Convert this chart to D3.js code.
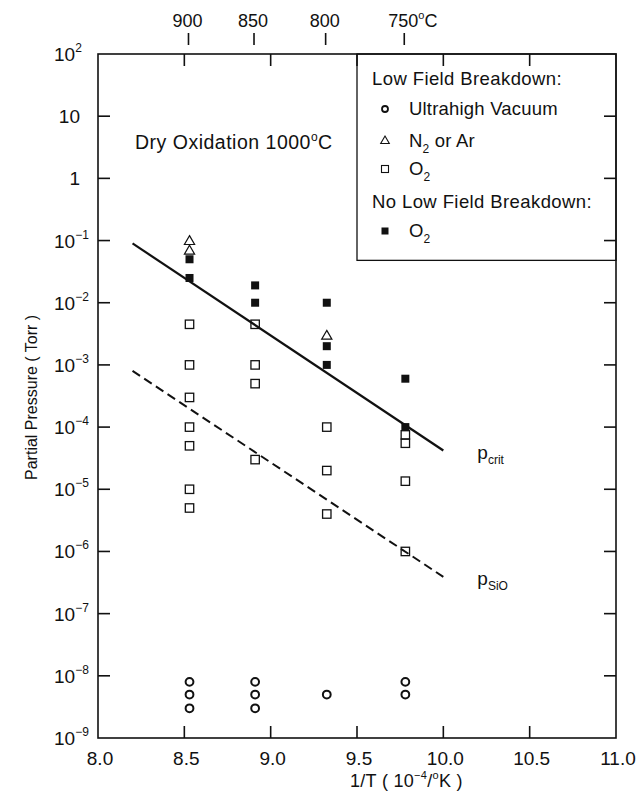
<!DOCTYPE html>
<html>
<head>
<meta charset="utf-8">
<script src="https://cdn.jsdelivr.net/npm/d3@7"></script>
<style>
  body { margin: 0; background: #fff; }
  svg text { font-family: "Liberation Sans", Arial, Helvetica, sans-serif; fill: #111; }
</style>
</head>
<body>
<div id="chart"></div>
<script>
/////////////////////// Constants ///////////////////////
const width = 643;
const height = 805;
const margin = {top: 54, right: 27, bottom: 67, left: 98};

const ink = "#111";

// axis ticks
const xTicks = [8.0, 8.5, 9.0, 9.5, 10.0, 10.5, 11.0];
const yExponents = [2, 1, 0, -1, -2, -3, -4, -5, -6, -7, -8, -9];
const tempTicks = [900, 850, 800, 750];   // degrees C, top axis

// data columns (1/T, 10^-4/K) and partial pressures (Torr)
const uhvPoints = [
  [8.53, 8e-9], [8.53, 5e-9], [8.53, 3e-9],
  [8.91, 8e-9], [8.91, 5e-9], [8.91, 3e-9],
  [9.325, 5e-9],
  [9.78, 8e-9], [9.78, 5e-9]
];
const inertPoints = [
  [8.53, 0.1], [8.53, 0.07], [9.325, 3e-3]
];
const o2OpenPoints = [
  [8.53, 4.5e-3], [8.53, 1e-3], [8.53, 3e-4], [8.53, 1e-4], [8.53, 5e-5], [8.53, 1e-5], [8.53, 5e-6],
  [8.91, 4.5e-3], [8.91, 1e-3], [8.91, 5e-4], [8.91, 3e-5],
  [9.325, 1e-4], [9.325, 2e-5], [9.325, 4e-6],
  [9.78, 7.5e-5], [9.78, 5.5e-5], [9.78, 1.35e-5], [9.78, 1e-6]
];
const o2FilledPoints = [
  [8.53, 0.05], [8.53, 0.025],
  [8.91, 0.019], [8.91, 0.01],
  [9.325, 0.01], [9.325, 2e-3], [9.325, 1e-3],
  [9.78, 6e-4], [9.78, 1e-4]
];
const pCritLine = [[8.2, 0.09], [10.0, 4.2e-5]];
const pSiOLine = [[8.2, 8e-4], [10.0, 3.9e-7]];

const legendItems = [
  {type: "header", text: "Low Field Breakdown:"},
  {type: "circle", text: "Ultrahigh Vacuum"},
  {type: "triangle", text: "N", sub: "2", rest: " or Ar"},
  {type: "open", text: "O", sub: "2"},
  {type: "header", text: "No Low Field Breakdown:"},
  {type: "filled", text: "O", sub: "2"}
];

/////////////////////// SVG ///////////////////////
const svg = d3.select("#chart").append("svg")
  .attr("width", width)
  .attr("height", height);

const x = d3.scaleLinear()
  .domain([8, 11])
  .range([margin.left, width - margin.right]);

const y = d3.scaleLog()
  .domain([1e-9, 1e2])
  .range([height - margin.bottom, margin.top]);

const x0 = x.range()[0], x1 = x.range()[1];
const yTop = y.range()[1], yBot = y.range()[0];
const tickLen = 12;

/////////////////////// Frame and ticks ///////////////////////
const frame = svg.append("g").attr("stroke", ink).attr("stroke-width", 1.6);
frame.append("rect")
  .attr("x", x0).attr("y", yTop)
  .attr("width", x1 - x0).attr("height", yBot - yTop)
  .attr("fill", "none");

// inner x ticks on bottom and top
const innerX = xTicks.filter(d => d > 8 && d < 11);
frame.selectAll(".xb").data(innerX).join("line")
  .attr("x1", d => x(d)).attr("x2", d => x(d))
  .attr("y1", yBot).attr("y2", yBot - tickLen);
frame.selectAll(".xt").data(innerX).join("line")
  .attr("x1", d => x(d)).attr("x2", d => x(d))
  .attr("y1", yTop).attr("y2", yTop + tickLen);

// inner y ticks on left and right
const innerY = yExponents.filter(e => e < 2 && e > -9);
frame.selectAll(".yl").data(innerY).join("line")
  .attr("x1", x0).attr("x2", x0 + tickLen)
  .attr("y1", e => y(Math.pow(10, e))).attr("y2", e => y(Math.pow(10, e)));
frame.selectAll(".yr").data(innerY).join("line")
  .attr("x1", x1).attr("x2", x1 - tickLen)
  .attr("y1", e => y(Math.pow(10, e))).attr("y2", e => y(Math.pow(10, e)));

// top temperature ticks (floating above the frame)
const tempX = t => x(1e4 / (t + 273.15));
frame.selectAll(".tt").data(tempTicks).join("line")
  .attr("x1", tempX).attr("x2", tempX)
  .attr("y1", yTop - 9).attr("y2", yTop - 21);

/////////////////////// Tick labels ///////////////////////
svg.append("g").selectAll("text").data(xTicks).join("text")
  .attr("x", d => x(d) + 2)
  .attr("y", yBot + 27)
  .attr("text-anchor", "middle")
  .attr("font-size", 19)
  .text(d => d.toFixed(1));

const tempLabels = svg.append("g").selectAll("text").data(tempTicks).join("text")
  .attr("x", d => tempX(d) - 16)
  .attr("y", yTop - 27)
  .attr("font-size", 18);
tempLabels.append("tspan").text(d => d);
tempLabels.filter(d => d === 750).each(function() {
  const t = d3.select(this);
  t.append("tspan").attr("font-size", 11).attr("dy", -8).text("o");
  t.append("tspan").attr("dy", 8).text("C");
});

const yLabels = svg.append("g").selectAll("text").data(yExponents).join("text")
  .attr("y", e => y(Math.pow(10, e)) + 7)
  .attr("font-size", 19);
yLabels.each(function(e) {
  const t = d3.select(this);
  if (e === 1) {
    t.attr("x", 80).attr("text-anchor", "end").text("10");
  } else if (e === 0) {
    t.attr("x", 80).attr("text-anchor", "end").text("1");
  } else {
    t.attr("x", 54);
    t.append("tspan").text("10");
    t.append("tspan").attr("font-size", 12).attr("dy", -9).text(e < 0 ? "\u2212" + (-e) : e);
  }
});

/////////////////////// Axis titles ///////////////////////
const xTitle = svg.append("text")
  .attr("x", 350).attr("y", yBot + 49)
  .attr("font-size", 18)
  .attr("letter-spacing", 0.3);
xTitle.append("tspan").text("1/T  ( 10");
xTitle.append("tspan").attr("font-size", 11).attr("dy", -8).text("\u22124");
xTitle.append("tspan").attr("dy", 8).text("/");
xTitle.append("tspan").attr("font-size", 11).attr("dy", -8).text("o");
xTitle.append("tspan").attr("dy", 8).text("K )");

svg.append("text")
  .attr("transform", `translate(37, ${y(3e-4)}) rotate(-90)`)
  .attr("text-anchor", "middle")
  .attr("font-size", 16)
  .text("Partial Pressure  ( Torr )");

const dryText = svg.append("text")
  .attr("x", 135).attr("y", y(3)).attr("font-size", 19.5)
  .attr("letter-spacing", 0.5);
dryText.append("tspan").text("Dry Oxidation 1000");
dryText.append("tspan").attr("font-size", 12).attr("dy", -8).text("o");
dryText.append("tspan").attr("dy", 8).text("C");

/////////////////////// Lines ///////////////////////
const line = d3.line(d => x(d[0]), d => y(d[1]));
svg.append("path").datum(pCritLine)
  .attr("d", line).attr("fill", "none")
  .attr("stroke", ink).attr("stroke-width", 2.2);
svg.append("path").datum(pSiOLine)
  .attr("d", line).attr("fill", "none")
  .attr("stroke", ink).attr("stroke-width", 2)
  .attr("stroke-dasharray", "9,5");

const pCrit = svg.append("text")
  .attr("x", x(10.0) + 34).attr("y", y(pCritLine[1][1]) + 8).attr("font-size", 19);
pCrit.append("tspan").text("p");
pCrit.append("tspan").attr("font-size", 12).attr("dy", 5).text("crit");

const pSiO = svg.append("text")
  .attr("x", x(10.0) + 34).attr("y", y(pSiOLine[1][1]) + 8).attr("font-size", 19);
pSiO.append("tspan").text("p");
pSiO.append("tspan").attr("font-size", 12).attr("dy", 5).text("SiO");

/////////////////////// Markers ///////////////////////
const marks = svg.append("g");
marks.selectAll(".uhv").data(uhvPoints).join("circle")
  .attr("cx", d => x(d[0])).attr("cy", d => y(d[1]))
  .attr("r", 3.9).attr("fill", "#fff").attr("stroke", ink).attr("stroke-width", 2);

marks.selectAll(".open").data(o2OpenPoints).join("rect")
  .attr("x", d => x(d[0]) - 4.2).attr("y", d => y(d[1]) - 4.2)
  .attr("width", 8.4).attr("height", 8.4)
  .attr("fill", "none").attr("stroke", ink).attr("stroke-width", 1.3);

marks.selectAll(".filled").data(o2FilledPoints).join("rect")
  .attr("x", d => x(d[0]) - 4).attr("y", d => y(d[1]) - 4)
  .attr("width", 8).attr("height", 8)
  .attr("fill", ink);

const tri = d3.symbol(d3.symbolTriangle, 45);
marks.selectAll(".tri").data(inertPoints).join("path")
  .attr("d", tri)
  .attr("transform", d => `translate(${x(d[0])},${y(d[1]) + 1})`)
  .attr("fill", "#fff").attr("stroke", ink).attr("stroke-width", 1.2);

/////////////////////// Legend ///////////////////////
const legX = x(9.5);
const legBottom = y(0.048);
svg.append("rect")
  .attr("x", legX).attr("y", yTop)
  .attr("width", x1 - legX).attr("height", legBottom - yTop)
  .attr("fill", "none").attr("stroke", ink).attr("stroke-width", 1.3);

const rowY = [85, 115, 147, 175, 208, 237];
const legend = svg.append("g");
legendItems.forEach((item, i) => {
  const yy = rowY[i];
  if (item.type === "header") {
    legend.append("text").attr("x", legX + 15).attr("y", yy)
      .attr("font-size", 18.5).attr("letter-spacing", 0.4).text(item.text);
    return;
  }
  const mx = legX + 28, my = yy - 6;
  if (item.type === "circle") {
    legend.append("circle").attr("cx", mx).attr("cy", my).attr("r", 3)
      .attr("fill", "#fff").attr("stroke", ink).attr("stroke-width", 1.8);
  } else if (item.type === "triangle") {
    legend.append("path").attr("d", d3.symbol(d3.symbolTriangle, 32))
      .attr("transform", `translate(${mx},${my})`)
      .attr("fill", "#fff").attr("stroke", ink).attr("stroke-width", 1.1);
  } else if (item.type === "open") {
    legend.append("rect").attr("x", mx - 3.5).attr("y", my - 3.5).attr("width", 7).attr("height", 7)
      .attr("fill", "none").attr("stroke", ink).attr("stroke-width", 1.1);
  } else {
    legend.append("rect").attr("x", mx - 3.5).attr("y", my - 3.5).attr("width", 7).attr("height", 7)
      .attr("fill", ink);
  }
  const t = legend.append("text").attr("x", legX + 52).attr("y", yy)
    .attr("font-size", 18.5).attr("letter-spacing", 0.2);
  t.append("tspan").text(item.text);
  if (item.sub) t.append("tspan").attr("font-size", 12).attr("dy", 6).text(item.sub);
  if (item.rest) t.append("tspan").attr("dy", -6).text(item.rest);
});
</script>
</body>
</html>
